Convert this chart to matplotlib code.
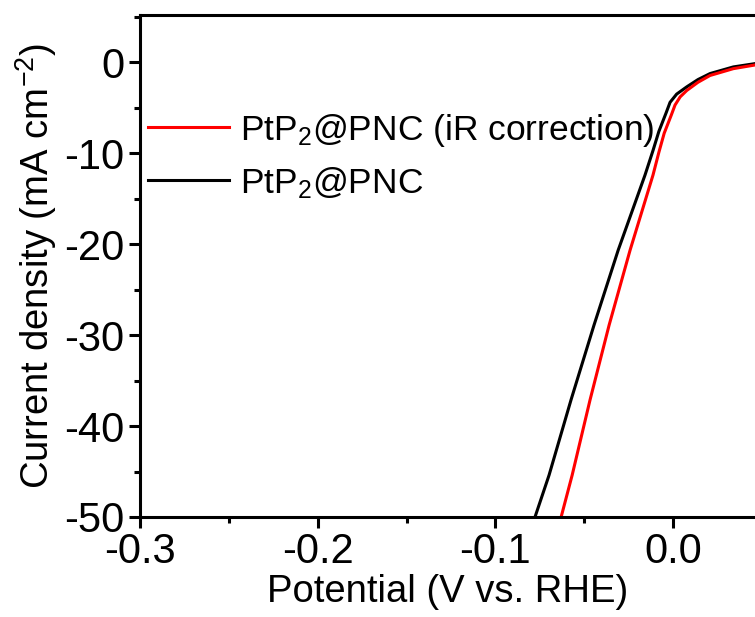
import matplotlib
matplotlib.use('Agg')
import matplotlib.pyplot as plt
from matplotlib.ticker import MultipleLocator

plt.rcParams['font.family'] = ['Liberation Sans', 'DejaVu Sans']
plt.rcParams['mathtext.fontset'] = 'custom'
plt.rcParams['mathtext.rm'] = 'Liberation Sans'
plt.rcParams['mathtext.default'] = 'regular'

# PtP2@PNC, raw polarisation curve
x_raw = [-0.0777, -0.0698, -0.0574, -0.0445, -0.0309, -0.0158, -0.0113,
         -0.0080, -0.0040, -0.0017, 0.0020, 0.0077, 0.0140, 0.0208, 0.0339, 0.046]
y_raw = [-50, -45.4, -37.1, -28.9, -20.66, -12.4, -9.7,
         -7.6, -5.6, -4.4, -3.5, -2.7, -1.9, -1.24, -0.51, -0.15]

# PtP2@PNC, iR corrected
x_ir = [-0.063, -0.0568, -0.0467, -0.036, -0.0242, -0.0113, -0.0080,
        -0.0050, -0.0010, 0.0011, 0.0040, 0.0077, 0.0140, 0.0208, 0.0339, 0.046]
y_ir = [-50, -45.4, -37.1, -28.9, -20.66, -12.4, -9.9,
        -7.8, -5.8, -4.7, -3.8, -3.1, -2.2, -1.45, -0.7, -0.3]

fig = plt.figure(figsize=(7.55, 6.17), dpi=100)
ax = fig.add_axes([140/755, 100/617, 615/755, 502/617])

ax.plot(x_raw, y_raw, color='black', lw=2.2, label='PtP$_2$@PNC')
ax.plot(x_ir, y_ir, color='red', lw=2.2, label='PtP$_2$@PNC (iR correction)')

ax.set_xlim(-0.3, 0.0461)
ax.set_ylim(-50, 5.2)
ax.xaxis.set_major_locator(MultipleLocator(0.1))
ax.xaxis.set_minor_locator(MultipleLocator(0.05))
ax.yaxis.set_major_locator(MultipleLocator(10))
ax.yaxis.set_minor_locator(MultipleLocator(5))
ax.xaxis.set_major_formatter(plt.FuncFormatter(lambda v, p: '%.1f' % v if abs(v) > 1e-9 else '0.0'))
ax.yaxis.set_major_formatter(plt.FuncFormatter(lambda v, p: '%d' % round(v)))

ax.spines['right'].set_visible(False)
for s in ['left', 'top', 'bottom']:
    ax.spines[s].set_linewidth(2.2)
ax.tick_params(which='major', direction='out', length=8, width=2.2, labelsize=30, pad=3)
ax.tick_params(which='minor', direction='out', length=4.5, width=2.2)
ax.tick_params(top=False, right=False)

ax.set_xlabel('Potential (V vs. RHE)', fontsize=27.5, labelpad=1)
ax.set_ylabel('Current density (mA cm$^{-2}$)', fontsize=27.5, labelpad=4)

h, l = ax.get_legend_handles_labels()
ax.legend([h[1], h[0]], [l[1], l[0]], loc='upper left', bbox_to_anchor=(-0.022, 0.85),
          frameon=False, fontsize=25.5, handlelength=2.3, handletextpad=0.3,
          labelspacing=0.46, borderaxespad=0.2)

fig.savefig('out.png', dpi=100)
